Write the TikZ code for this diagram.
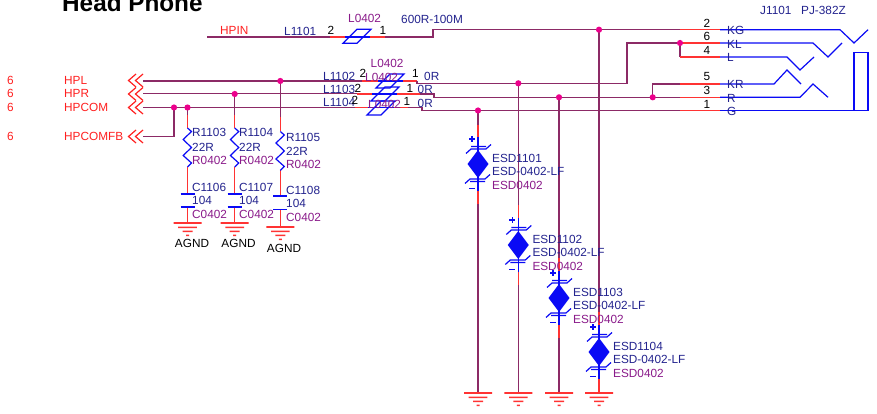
\documentclass[tikz,border=0pt]{standalone}
\usepackage{fontspec}
\setmainfont{Liberation Sans}
\definecolor{wirec}{HTML}{8C2A66}
\definecolor{pinc}{HTML}{FF3333}
\definecolor{bluec}{HTML}{0A0AF5}
\definecolor{refc}{HTML}{23238E}
\definecolor{pkgc}{HTML}{8A1A8A}
\definecolor{netc}{HTML}{FF2020}
\tikzset{
 wire/.style={draw=wirec,line width=1.4pt},
 pinw/.style={draw=pinc,line width=1.3pt},
 sym/.style={draw=bluec,line width=1.2pt},
 txt/.style={font=\fontsize{11.8}{12}\selectfont,inner sep=0pt,anchor=west},
 reft/.style={txt,text=refc},
 pkgt/.style={txt,text=pkgc},
 nett/.style={txt,text=netc},
 numt/.style={txt,text=black,anchor=center},
 dot/.style={circle,fill=magenta,inner sep=0pt,minimum size=6.2pt},
}
\newcommand{\gnd}[2]{% x, y
 \fill[pinc] (#1-14,#2-.8) rectangle (#1+14,#2+.8) (#1-9.3,#2+3.6) rectangle (#1+9.3,#2+5.2) (#1-5,#2+7.6) rectangle (#1+5,#2+9.2) (#1-1.5,#2+11.6) rectangle (#1+1.5,#2+13.2);}
\newcommand{\chev}[1]{% y
 \draw[draw=netc,line width=1.2pt] (136,#1-6.5)--(128.5,#1)--(136,#1+6.5) (143,#1-6.5)--(135.5,#1)--(143,#1+6.5);}
\newcommand{\zig}[2]{% x, ytop
 \draw[sym] (#1,#2)--(#1+4,#2+3.5)--(#1-4.3,#2+11.5)--(#1+4,#2+19.5)--(#1-4.3,#2+27.5)--(#1+4,#2+35)--(#1,#2+39);}
\newcommand{\capa}[2]{% x, ytop
 \draw[sym,line width=1.7pt] (#1-7,#2)--(#1+7,#2) (#1-7,#2+13.5)--(#1+7,#2+13.5);}
\newcommand{\ferrite}[2]{% x (left bottom), y (bottom)
 \draw[sym] (#1,#2)--(#1+14,#2)--(#1+28,#2-14)--(#1+14,#2-14)--cycle;}
\newcommand{\esd}[4]{% name, x, y centre, ref
 \begin{scope}[shift={(#2,#3)}]
 \fill[bluec] (0,-14)--(10.5,0)--(0,14)--(-10.5,0)--cycle;
 \draw[sym] (0,-27)--(0,27);
 \draw[sym] (-12,-10.5)--(-7,-15)--(8,-15)--(13,-19.5) (-7,-17.5)--(8,-17.5);
 \draw[sym] (-13,19.5)--(-8,15)--(7,15)--(12,10.5) (-8,17.5)--(7,17.5);
 \draw[draw=bluec,line width=1.2pt] (-9,-25)--(-3,-25) (-6,-28)--(-6,-22) (-9,24.5)--(-3,24.5);
 \node[reft] (#1r) at (14,-6) {#4};
 \node[reft] (#1v) at (14,7) {ESD-0402-LF};
 \node[pkgt] (#1p) at (14,21) {ESD0402};
 \end{scope}}
\begin{document}
\begin{tikzpicture}[x=1pt,y=-1pt]
\useasboundingbox[fill=white] (0,0) rectangle (877,414);
% title
\node[font=\bfseries\fontsize{24.3}{26}\selectfont,inner sep=0pt,anchor=base west] (title) at (62,11.5) {Head Phone};
% coordinates
\coordinate (hpin) at (207,37);
\coordinate (jl1) at (143,81);
\coordinate (jl2) at (143,94);
\coordinate (jl3) at (143,107.5);
\coordinate (jl4) at (143,136.5);
\coordinate (d1) at (174,107.5);
\coordinate (d2) at (187.5,107.5);
\coordinate (d3) at (234.7,94);
\coordinate (d4) at (280.3,81);
\coordinate (d5) at (478,110.5);
\coordinate (d6) at (518.3,83.3);
\coordinate (d7) at (559,97.3);
\coordinate (d8) at (599,29.7);
\coordinate (d9) at (680,43);
\coordinate (d10) at (652.7,97.3);
% wires
\draw[wire] (hpin)--(330,37) (385,37)--(433,37)--(433,29.7)--(680,29.7);
\draw[pinw] (330,37)--(345,37) (370,37)--(385,37);
\draw[sym] (345,37)--(370,37);
\draw[wire,line width=1.8pt] (jl1)--(362,81);
\draw[wire,line width=1pt] (jl2)--(357,94);
\draw[wire] (jl3)--(355,107.5);
\draw[wire] (jl4)--(174,136.5)--(d1);
\draw[wire] (d1)--(d2);
\draw[pinw] (362,81)--(417,81) (357,94)--(420,94) (355,107.5)--(408,107.5);
\draw[sym] (378,81)--(403,81) (372,94)--(397,94) (368,107.5)--(394,107.5);
\draw[wire] (417,81)--(417,83.3)--(627,83.3)--(627,43)--(d9);
\draw[wire] (420,94)--(434,94)--(434,97.3)--(d10)--(680,97.3);
\draw[wire] (408,107.5)--(422,107.5)--(422,110.5)--(680,110.5);
\draw[wire] (d10)--(652.7,84)--(680,84);
\draw[wire] (d9)--(680,57);
% vertical drops of the ESD lines
\draw[wire] (d5)--(478,125);
\draw[pinw] (478,125)--(478,137);
\draw[wire] (d6)--(518.3,205);
\draw[pinw] (518.3,205)--(518.3,218);
\draw[wire] (d7)--(559,258);
\draw[pinw] (559,258)--(559,271);
\draw[wire] (d8)--(599,312);
\draw[pinw] (599,312)--(599,325);
% below ESD
\draw[pinw] (478,191)--(478,204);
\draw[wire] (478,204)--(478,393);
\draw[pinw] (518.3,272)--(518.3,285);
\draw[wire] (518.3,285)--(518.3,393);
\draw[pinw] (559,325)--(559,338);
\draw[wire] (559,338)--(559,393);
\draw[pinw] (599,379)--(599,393);
% ferrites
\ferrite{343}{43.3}
\ferrite{376}{88}
\ferrite{371}{101}
\ferrite{367}{115}
% ESD
\esd{e1}{478}{164}{ESD1101}
\esd{e2}{518.3}{245}{ESD1102}
\esd{e3}{559}{298}{ESD1103}
\esd{e4}{599}{352}{ESD1104}
\gnd{478}{393}\gnd{518.3}{393}\gnd{559}{393}\gnd{599}{393}
% resistors branches
\draw[wire] (d2)--(187.5,115);
\draw[pinw] (187.5,115)--(187.5,128) (187.5,167)--(187.5,193.7) (187.5,207)--(187.5,223);
\draw[wire] (d3)--(234.7,115);
\draw[pinw] (234.7,115)--(234.7,128) (234.7,167)--(234.7,193.7) (234.7,207)--(234.7,223);
\draw[wire] (d4)--(280.3,117);
\draw[pinw] (280.3,117)--(280.3,131.5) (280.3,170.5)--(280.3,196) (280.3,209.5)--(280.3,227);
\zig{187.5}{128}\zig{234.7}{128}\zig{280.3}{131.5}
\capa{187.5}{193.7}\capa{234.7}{193.7}\capa{280.3}{196}
\gnd{187.5}{223}\gnd{234.7}{223}\gnd{280.3}{227}
% chevrons
\chev{80.5}\chev{94}\chev{107.5}\chev{136.5}
% connector
\draw[pinw] (680,29.7)--(720,29.7) (d9)--(720,43) (680,57)--(720,57) (680,84)--(720,84) (680,97.3)--(720,97.3) (680,110.5)--(720,110.5);
\draw[sym] (720,29.7)--(840,29.7)--(854,43)--(868,29.7);
\draw[sym] (720,43)--(813,43)--(828,57)--(842,43);
\draw[sym] (720,57)--(787,57)--(800,70)--(814,57);
\draw[sym] (720,84)--(774,84)--(787,70)--(801,84);
\draw[sym] (720,97.3)--(800,97.3)--(813,84)--(828,97.3);
\draw[sym] (720,110.5)--(868,110.5)--(868,52.5)--(854,52.5)--(854,110.5);
% junction dots
\foreach \c in {d1,d2,d3,d4,d5,d6,d7,d8,d9,d10}{\node[dot] (dot\c) at (\c) {};}
% net labels
\foreach \nm/\yy/\lb in {a/80.5/HPL,b/93.5/HPR,c/107.5/HPCOM,d/136.5/HPCOMFB}{
 \node[nett] (n\nm) at (7,\yy) {6};
 \node[nett] (l\nm) at (64,\yy) {\lb};
}
\node[nett] (nhpin) at (220,30) {HPIN};
% ferrite labels
\node[reft] (l1101) at (284,31) {L1101};
\node[numt] (p1a) at (331,30) {2};
\node[numt] (p1b) at (383,30) {1};
\node[pkgt] (l1p) at (348,18.5) {L0402};
\node[reft] (l1v) at (401,19) {600R-100M};
\node[reft] (l1102) at (323,76) {L1102};
\node[numt] (p2a) at (363,73) {2};
\node[numt] (p2b) at (415.5,73) {1};
\node[reft] (l2v) at (424,76.5) {0R};
\node[pkgt] (l2p) at (370.5,63.5) {L0402};
\node[reft] (l1103) at (323,89) {L1103};
\node[numt] (p3a) at (358,88) {2};
\node[numt] (p3b) at (410,88) {1};
\node[reft] (l3v) at (417.5,89) {0R};
\node[pkgt] (l3p) at (365,77) {L0402};
\node[reft] (l1104) at (323,102.5) {L1104};
\node[numt] (p4a) at (355,100) {2};
\node[numt] (p4b) at (407,101) {1};
\node[reft] (l4v) at (417.5,103) {0R};
\node[pkgt] (l4p) at (368,104) {L0402};
% RC labels
\foreach \nm/\xx/\ra/\rb/\rc/\ca/\cb/\cc/\rr/\cr in {
 a/192/132.7/147/160/187/200/214/R1103/C1106,
 b/239/132.7/147/160/187/200/214/R1104/C1107,
 c/286/137/151/164/190/203/217/R1105/C1108}{
 \node[reft] (r\nm) at (\xx,\ra) {\rr};
 \node[reft] (rv\nm) at (\xx,\rb) {22R};
 \node[pkgt] (rp\nm) at (\xx,\rc) {R0402};
 \node[reft] (c\nm) at (\xx,\ca) {\cr};
 \node[reft] (cv\nm) at (\xx,\cb) {104};
 \node[pkgt] (cp\nm) at (\xx,\cc) {C0402};
}
\node[numt] (ga) at (192,243.5) {AGND};
\node[numt] (gb) at (238.5,243.5) {AGND};
\node[numt] (gc) at (284,248) {AGND};
% connector labels
\node[reft] (j) at (760,10) {J1101};
\node[reft] (jv) at (801,10) {PJ-382Z};
\foreach \nm/\yy/\pn/\lb in {a/30.5/2/KG,b/44/6/KL,c/57.5/4/L,d/84/5/KR,e/98/3/R,f/111.5/1/G}{
 \node[reft] (k\nm) at (727,\yy) {\lb};
 \node[numt] (kp\nm) at (707,\yy-7.5) {\pn};
}
\end{tikzpicture}
\end{document}
